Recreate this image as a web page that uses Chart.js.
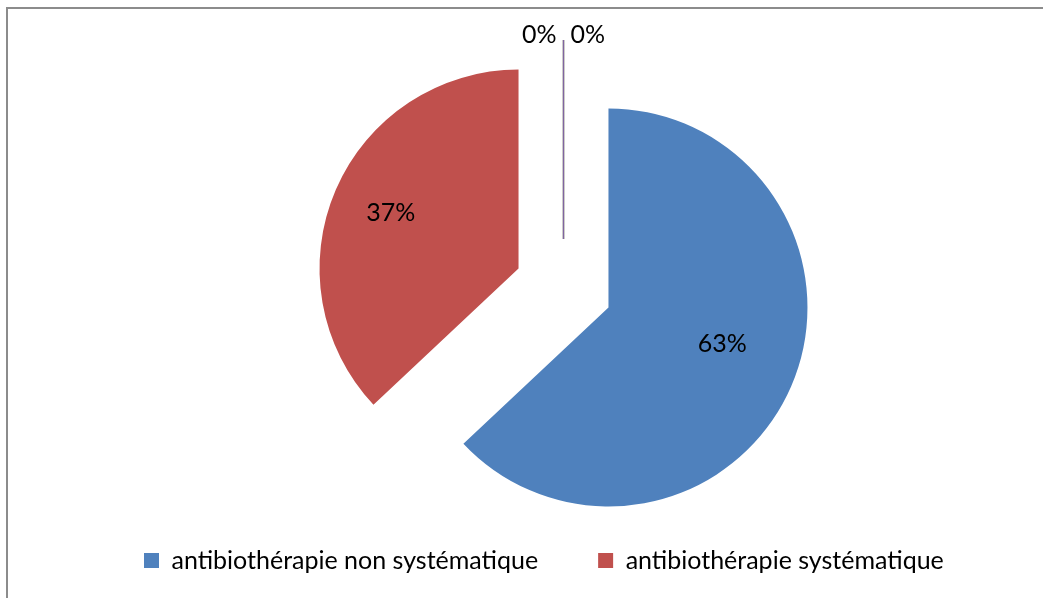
<!DOCTYPE html>
<html>
<head>
<meta charset="utf-8">
<script src="https://cdn.jsdelivr.net/npm/chart.js@4/dist/chart.umd.min.js"></script>
<style>
    html, body { margin: 0; padding: 0; background: #fff; overflow: hidden; }
    .wrap { position: relative; width: 1043px; height: 598px; }
    .frame { position: absolute; left: 6px; top: 7px; width: 1100px; height: 700px;
             border: 2px solid #8c8c8c; pointer-events: none; }
</style>
</head>
<body>
<div class="wrap">
    <canvas id="pieChart" width="1043" height="598"></canvas>
    <div class="frame"></div>
</div>
<script>
// categories (the last two are empty in the source, shown only as 0%)
const categories = ['antibiothérapie non systématique', 'antibiothérapie systématique', '', ''];
const shares = [63, 37, 0, 0];
const sliceColors = ['#4F81BD', '#C0504D', '#9BBB59', '#8064A2'];

const FONT = 'Lato, "Open Sans", sans-serif';

// push each slice out along its mid angle (Excel "exploded" pie)
const explodePlugin = {
    id: 'explode',
    afterDatasetsUpdate(chart, args, opts) {
        chart.getDatasetMeta(0).data.forEach(arc => {
            const mid = (arc.startAngle + arc.endAngle) / 2;
            arc.x += Math.cos(mid) * opts.distance;
            arc.y += Math.sin(mid) * opts.distance;
        });
    }
};

// percent labels + the edge line of the empty slices
const labelPlugin = {
    id: 'sliceLabels',
    afterDatasetsDraw(chart, args, opts) {
        const ctx = chart.ctx;
        const meta = chart.getDatasetMeta(0);
        const values = chart.data.datasets[0].data;
        const total = values.reduce((a, b) => a + b, 0);
        ctx.save();
        ctx.font = opts.font;
        ctx.fillStyle = '#000';
        ctx.textBaseline = 'middle';
        meta.data.forEach((arc, i) => {
            const text = Math.round(values[i] / total * 100) + '%';
            const mid = (arc.startAngle + arc.endAngle) / 2 + opts.turn[i];
            if (values[i] === 0) {
                ctx.strokeStyle = chart.data.datasets[0].backgroundColor[i];
                ctx.lineWidth = 1.5;
                ctx.beginPath();
                ctx.moveTo(arc.x, arc.y);
                ctx.lineTo(arc.x + Math.cos(arc.startAngle) * arc.outerRadius,
                           arc.y + Math.sin(arc.startAngle) * arc.outerRadius);
                ctx.stroke();
                const side = opts.zeroSide[i];
                ctx.textAlign = side < 0 ? 'right' : 'left';
                ctx.fillText(text, arc.x + side * 7,
                             arc.y + Math.sin(mid) * (arc.outerRadius + 5));
            } else {
                const r = arc.outerRadius * opts.radial[i];
                ctx.textAlign = 'center';
                ctx.fillText(text, arc.x + Math.cos(mid) * r, arc.y + Math.sin(mid) * r);
            }
        });
        ctx.restore();
    }
};

new Chart(document.getElementById('pieChart'), {
    type: 'pie',
    data: {
        labels: categories,
        datasets: [{
            data: shares,
            backgroundColor: sliceColors,
            borderWidth: 0,
            clip: false
        }]
    },
    options: {
        responsive: false,
        devicePixelRatio: 1,
        animation: false,
        radius: 199,
        layout: { padding: { left: 84, right: 0, top: 88, bottom: 15 } },
        plugins: {
            tooltip: { enabled: false },
            explode: { distance: 49 },
            sliceLabels: {
                font: '25px ' + FONT,
                radial: [0.6, 0.7],
                turn: [-0.1, 0, 0, 0],
                zeroSide: [0, 0, -1, 1]
            },
            legend: {
                position: 'bottom',
                align: 'start',
                labels: {
                    boxWidth: 15,
                    boxHeight: 15,
                    padding: 60,
                    color: '#000',
                    font: { family: FONT, size: 25 },
                    filter: item => item.text !== ''
                }
            }
        }
    },
    plugins: [explodePlugin, labelPlugin]
});
</script>
</body>
</html>
